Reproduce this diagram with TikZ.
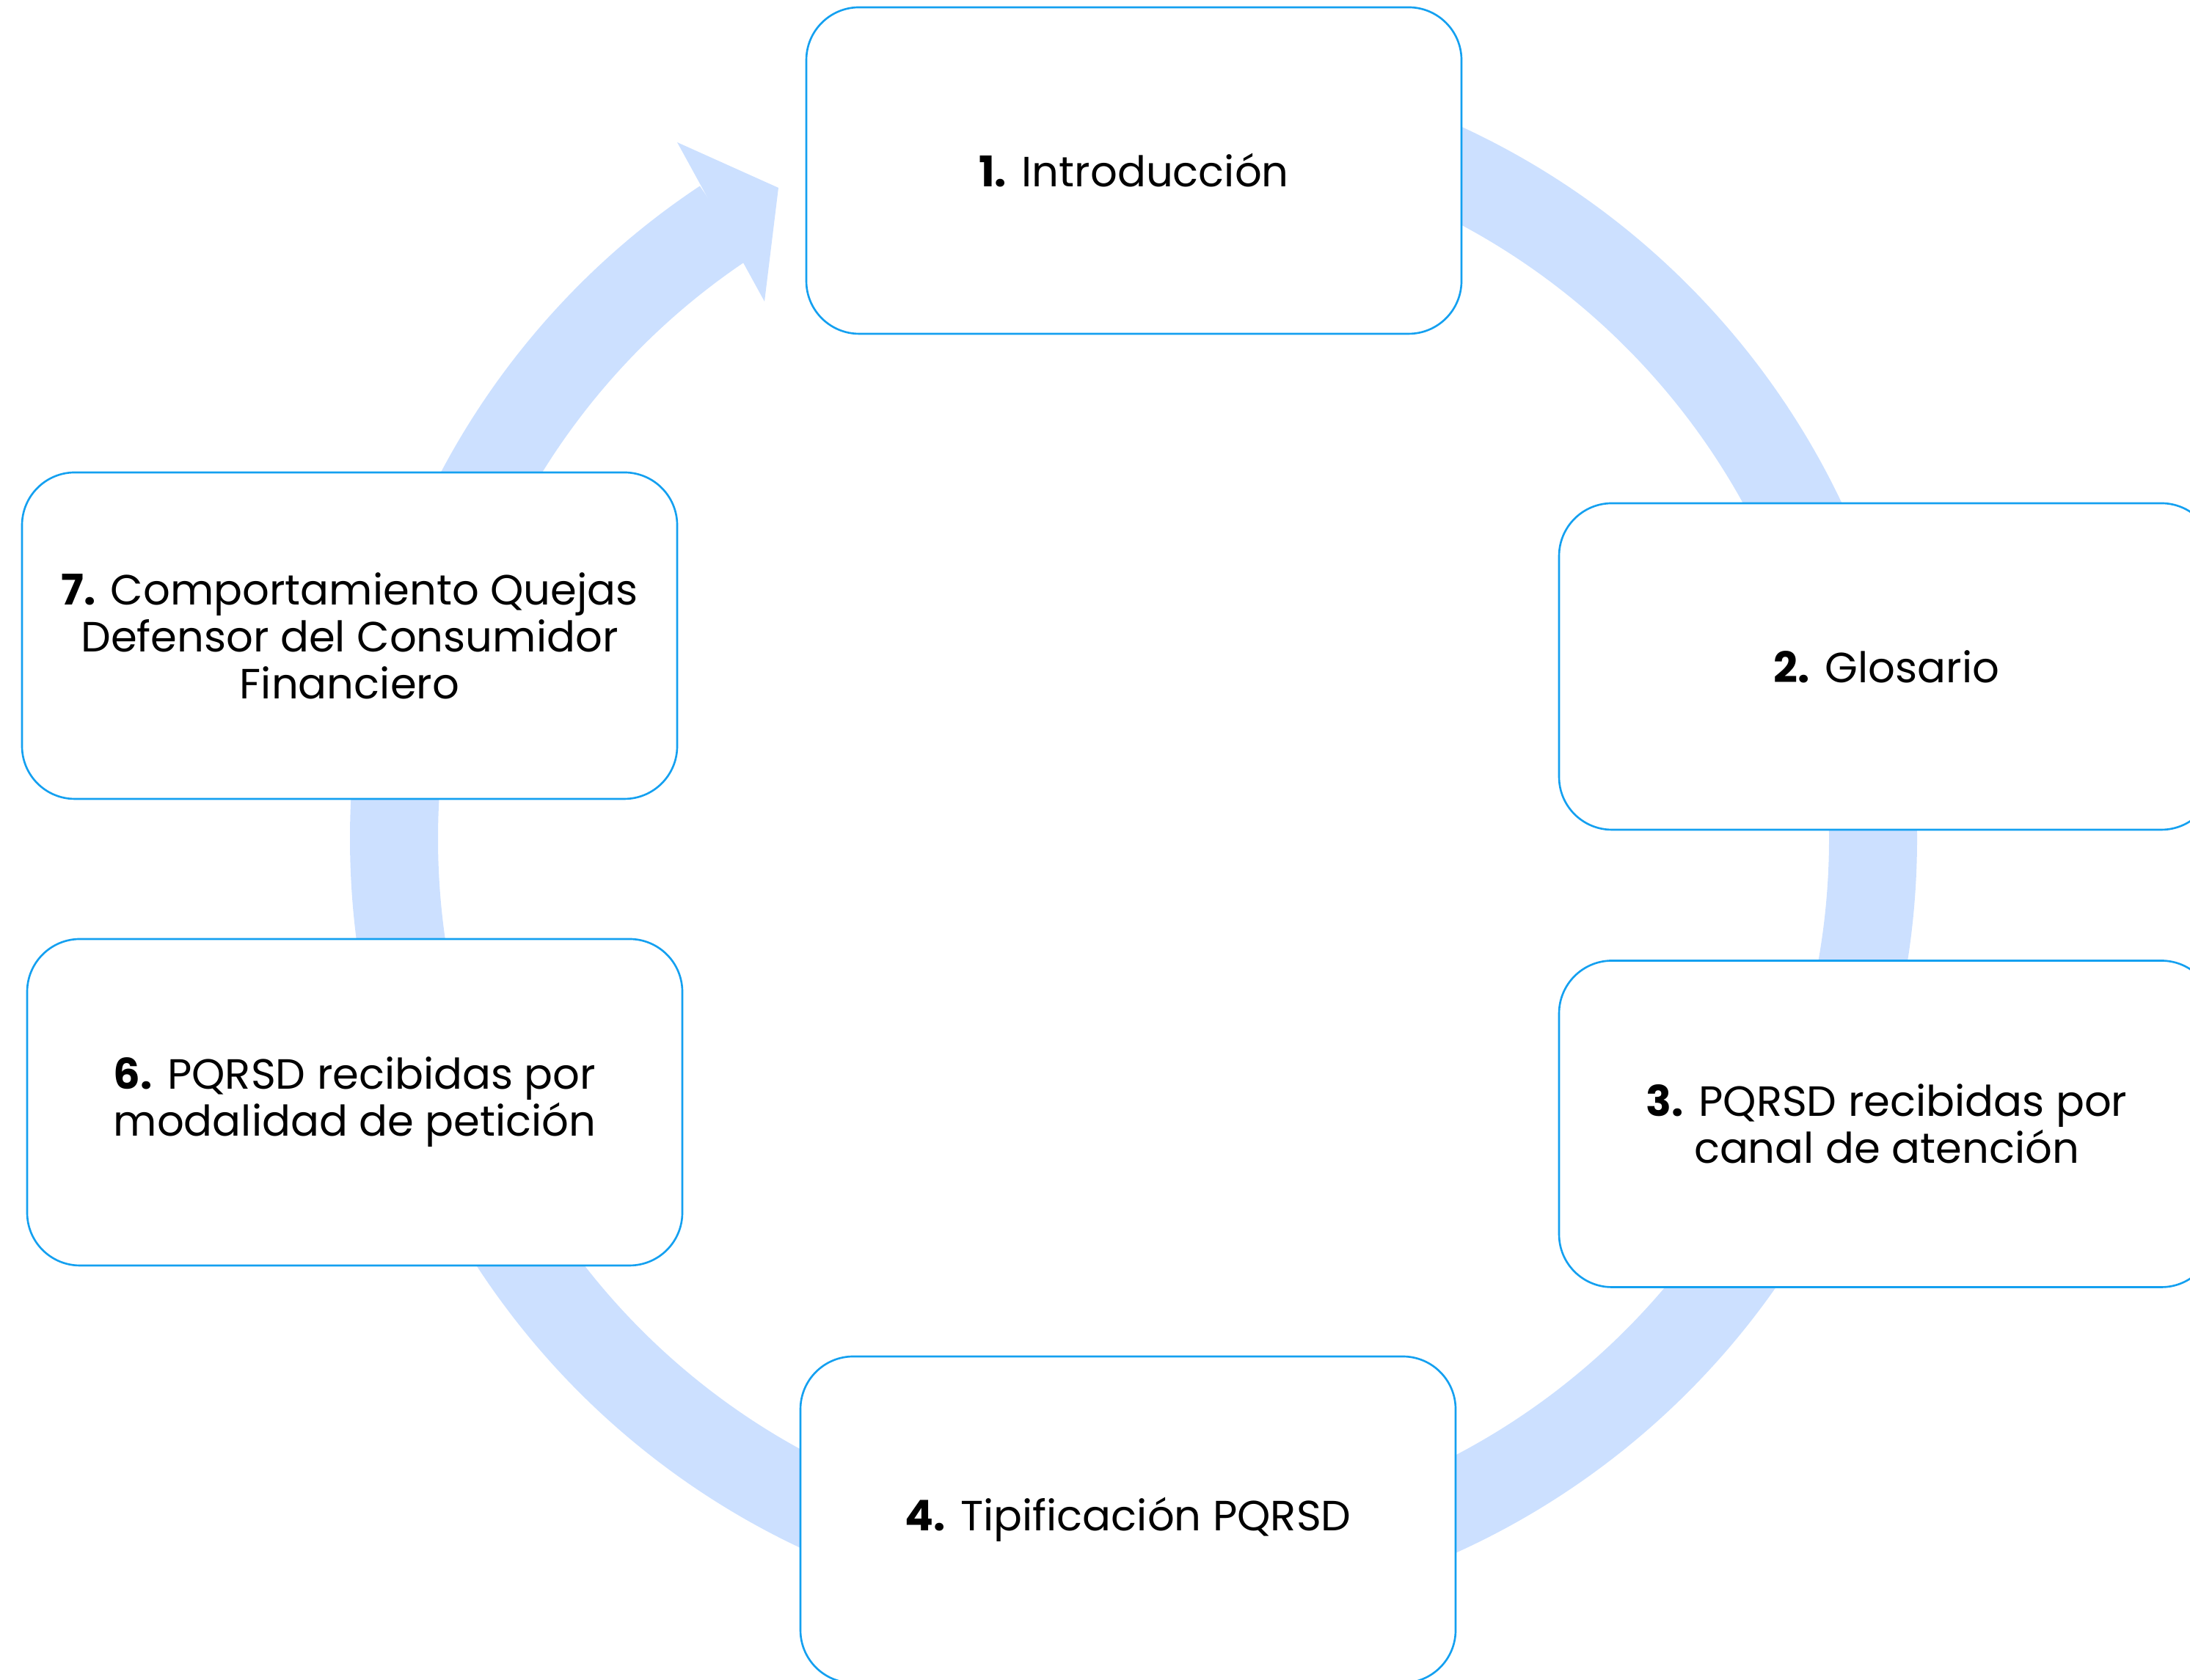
\documentclass[tikz,border=0pt]{standalone}
\usepackage{fontspec}
\setmainfont{Poppins}
\usepackage{tikz}
\definecolor{ringblue}{RGB}{204,224,255}
\definecolor{boxblue}{RGB}{20,160,240}

\begin{document}
\begin{tikzpicture}[>=latex,
    stage/.style={draw=boxblue,line width=0.75pt,fill=white,rounded corners=0.72cm,
        minimum width=8.93cm,minimum height=4.45cm,align=center,
        font=\fontsize{16.4}{18.2}\selectfont},
    ring/.style={draw=ringblue,line width=1.2cm}]
        \useasboundingbox (0,0) rectangle (29.85,22.9);
        \clip (0,0) rectangle (29.85,22.9);
        \coordinate (hub) at (15.45,11.47);
        \draw[ring] (hub) ++(90:10.08) arc[start angle=90,end angle=-236.4,radius=10.08];
        \fill[ringblue] (9.23,20.96) -- (10.61,20.34) -- (10.42,18.79) -- cycle;
        \node[stage] (intro) at (15.455,20.575) {\textbf{1.} Introducción};
        \node[stage] (glosario) at (25.715,13.815) {\textbf{2.} Glosario};
        \node[stage] (canal) at (25.715,7.58) {\textbf{3.} PQRSD recibidas por\\canal de atención};
        \node[stage] (tipos) at (15.375,2.185) {\textbf{4.} Tipificación PQRSD};
        \node[stage] (modalidad) at (4.835,7.875) {\textbf{6.} PQRSD recibidas por\\modalidad de petición};
        \node[stage] (defensor) at (4.765,14.235) {\textbf{7.} Comportamiento Quejas\\Defensor del Consumidor\\Financiero};
    \end{tikzpicture}
\end{document}
